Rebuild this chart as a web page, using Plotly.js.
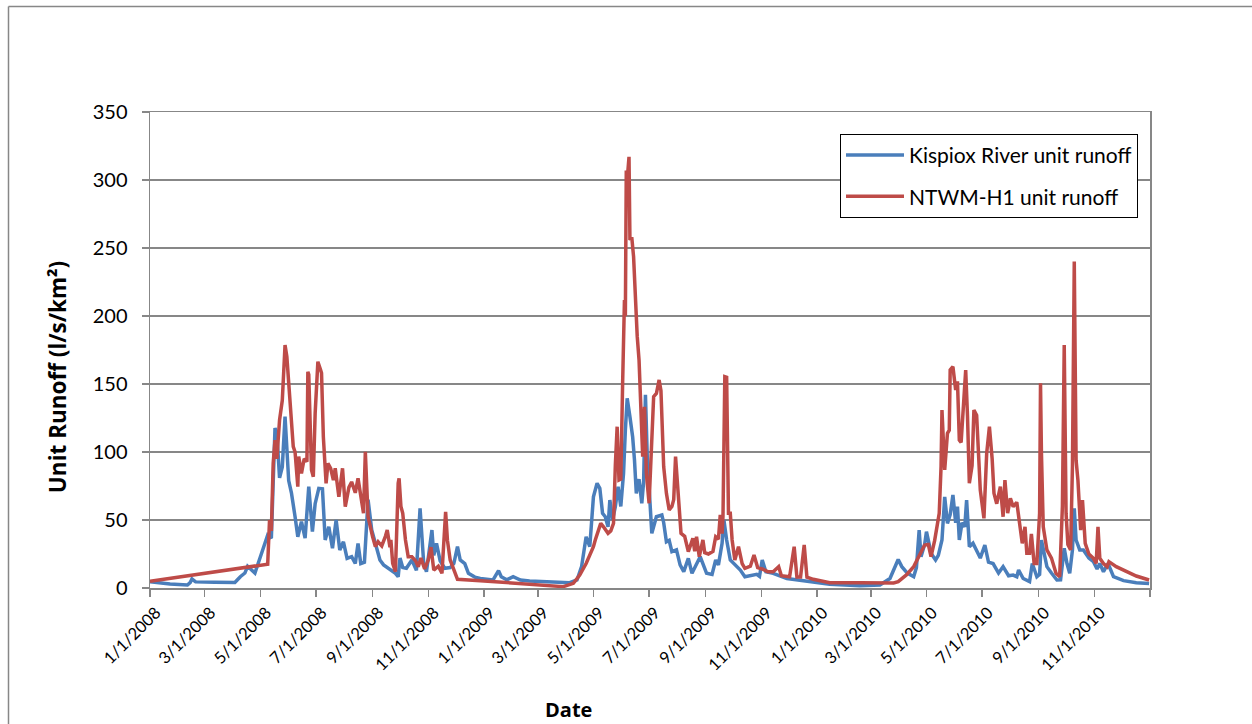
<!DOCTYPE html>
<html>
<head>
<meta charset="utf-8">
<script src="https://cdn.plot.ly/plotly-3.0.1.min.js"></script>
<style>
  html, body { margin: 0; padding: 0; background: #ffffff; }
  #chart { width: 1252px; height: 724px; }
</style>
</head>
<body>
<div id="chart"></div>
<script>
// Daily unit runoff, 2008-2010. Days are counted from 1 Jan 2008.
const kispioxDay = [0, 8, 22, 41, 44, 46, 50, 71, 93, 99, 104, 107, 112, 115, 121, 126, 129, 133, 135, 137, 139, 142, 145, 148, 152, 155, 159, 162, 166, 170, 174, 178, 181, 185, 189, 192, 196, 200, 204, 208, 212, 216, 221, 225, 228, 231, 235, 239, 243, 247, 252, 256, 261, 269, 272, 274, 277, 281, 287, 292, 296, 300, 303, 309, 311, 314, 318, 323, 329, 333, 337, 340, 345, 349, 356, 362, 376, 382, 385, 391, 398, 406, 416, 435, 460, 468, 473, 478, 482, 486, 490, 493, 496, 499, 502, 504, 507, 510, 513, 516, 519, 521, 523, 526, 529, 531, 533, 536, 539, 541, 543, 545, 548, 550, 555, 561, 563, 566, 569, 572, 577, 581, 585, 590, 594, 599, 603, 607, 610, 616, 620, 623, 627, 629, 632, 636, 641, 647, 652, 658, 665, 668, 671, 675, 683, 698, 720, 745, 778, 800, 811, 815, 820, 824, 830, 837, 840, 843, 845, 849, 851, 854, 856, 861, 864, 868, 871, 874, 877, 880, 883, 885, 887, 890, 893, 895, 898, 902, 906, 910, 915, 919, 924, 930, 935, 941, 946, 950, 952, 957, 964, 967, 972, 975, 977, 979, 983, 988, 994, 998, 1002, 1005, 1008, 1011, 1013, 1015, 1019, 1023, 1029, 1034, 1038, 1041, 1045, 1050, 1056, 1067, 1081, 1095];
const kispioxRunoff = [4.6, 4, 3, 2.2, 4, 6.6, 4.5, 4.2, 4, 8.3, 11, 16, 13, 11, 23, 33, 39, 36.7, 79, 117.6, 114, 81, 89, 126, 79, 70, 52.4, 37.7, 48.8, 36.7, 74.5, 41.4, 62, 73.3, 73, 35.3, 45, 29.2, 50, 28, 34, 21.8, 23, 18, 32.8, 18, 19, 65, 42.6, 33, 20.6, 17, 14.5, 10.8, 8.3, 22, 15, 14.5, 20.6, 13, 58.6, 18, 12, 42.6, 24, 32.8, 20, 14.5, 15, 18, 30.4, 20.6, 18, 10.8, 8, 7, 5.9, 12.7, 8.3, 6, 8.3, 5.9, 5.1, 4.7, 3.9, 5.9, 15.7, 37.7, 30.4, 67, 77, 73.3, 55, 52.4, 45, 64.7, 50, 59.8, 74.5, 60, 84.3, 116, 139.5, 126, 111, 94, 69.6, 80, 62.3, 78, 142, 96.6, 59.8, 40.2, 52.4, 53.7, 48, 34, 35, 26.7, 28, 17, 12, 21.8, 10.8, 18, 23, 16, 10.8, 10, 20.6, 17, 32.8, 50, 35.3, 20.6, 17, 13.2, 8.3, 9, 10, 8.5, 20.6, 12, 10.8, 7, 4.7, 2.7, 1.7, 2.2, 7, 13.2, 21, 15.7, 11, 8.3, 15, 42.6, 23, 32, 41.4, 32, 25.5, 20.6, 24, 35.3, 67, 47.5, 54, 68.4, 48, 59.8, 35.3, 48, 45, 64.7, 30.4, 33, 28, 22, 31.6, 19, 18, 11, 15.7, 9, 9.5, 8.3, 13.2, 7, 4.7, 18, 8.3, 10, 35.3, 28, 15.7, 11, 5.9, 6, 29.2, 18, 10.8, 28, 58.6, 35.3, 28, 28, 22, 19.4, 14, 18, 12, 18, 8.3, 5.4, 3.9, 3.4];

const ntwmDay = [0, 129, 131, 133, 135, 137, 139, 142, 145, 148, 150, 152, 155, 157, 159, 162, 163, 166, 169, 172, 173, 174, 177, 179, 181, 184, 187, 188, 190, 193, 195, 198, 201, 203, 207, 211, 214, 218, 221, 225, 228, 231, 234, 236, 239, 244, 247, 250, 254, 258, 260, 263, 264, 266, 269, 272, 273, 275, 277, 280, 283, 287, 291, 294, 297, 301, 305, 308, 311, 316, 320, 324, 326, 329, 337, 362, 398, 427, 453, 464, 471, 478, 486, 488, 494, 497, 502, 505, 508, 510, 512, 514, 516, 518, 520, 521, 522, 523, 525, 526, 528, 530, 533, 534, 536, 538, 540, 542, 544, 547, 550, 552, 555, 558, 560, 563, 566, 569, 572, 574, 576, 579, 582, 586, 590, 595, 597, 599, 602, 606, 608, 612, 617, 620, 623, 625, 627, 628, 630, 632, 634, 636, 638, 641, 645, 649, 652, 658, 662, 666, 671, 677, 683, 689, 692, 701, 706, 709, 713, 717, 720, 727, 745, 778, 815, 820, 829, 837, 844, 849, 853, 856, 860, 863, 865, 867, 868, 871, 874, 876, 877, 880, 883, 885, 887, 889, 892, 894, 896, 898, 901, 903, 906, 908, 910, 914, 917, 920, 923, 925, 928, 932, 935, 937, 940, 943, 946, 950, 953, 956, 959, 961, 964, 966, 969, 972, 975, 976, 977, 979, 983, 988, 993, 997, 1000, 1002, 1004, 1006, 1009, 1011, 1013, 1015, 1017, 1020, 1022, 1025, 1029, 1034, 1037, 1039, 1041, 1045, 1049, 1051, 1059, 1070, 1081, 1095];
const ntwmRunoff = [5, 17.5, 50, 42, 91.7, 108.8, 95, 123.5, 138, 178.7, 170, 150, 121, 104, 100, 74.5, 96.6, 84.3, 95, 92.9, 159, 157, 86.8, 81.8, 128.4, 166.4, 160.3, 158, 111, 77, 91.7, 88, 79.4, 88, 67, 88, 59.8, 74, 78, 70, 80.6, 67, 55, 100.2, 52.4, 37.7, 30.4, 34, 31, 38, 42.6, 30, 35.3, 18, 12, 77, 80.6, 60, 55, 35.3, 23, 23, 20, 15.7, 22, 14, 20.6, 30, 13.2, 16, 10.8, 56, 35, 20.6, 6.4, 5.4, 3.9, 2.2, 1, 3.4, 9.6, 18, 30.4, 35.3, 47.5, 45, 40.2, 42, 47.5, 90, 118.6, 79.4, 80, 150.5, 211.8, 200, 307, 300, 317, 255.9, 258, 243.6, 187.3, 185, 167.6, 121, 96.6, 133.3, 84.3, 62.3, 113.7, 140.7, 143, 153, 145, 89.2, 69.6, 57.4, 60, 65, 96.6, 70, 40.2, 38, 26.7, 36.5, 27, 37.7, 23, 35.3, 26, 25, 27, 37.7, 36, 53.7, 40, 53, 155.4, 155, 55, 55, 35.3, 20.6, 30.4, 18, 14.5, 16, 24.3, 15, 14, 12, 12, 15.7, 9, 8.3, 30.4, 8, 8, 31.6, 8, 6.4, 3.9, 3.9, 3.7, 4.7, 9.6, 15.7, 24.3, 31.6, 32, 23, 35, 46.3, 55, 89.2, 130.9, 86.8, 113.7, 116, 160.3, 162.7, 145.6, 152, 108.8, 107, 138, 160.3, 126, 77, 90, 130.9, 127, 96.6, 72, 51.2, 99, 118.6, 95, 69.6, 62, 74.5, 52.4, 79.4, 55, 66, 59.8, 63, 48.8, 32.8, 45, 25.5, 25.5, 39.7, 18, 18, 55, 150.5, 100, 45, 28, 22, 10.8, 8.3, 60, 178.7, 55, 32, 28, 90, 240, 94, 79.4, 42.6, 64.7, 32.8, 25, 21.8, 18, 45, 21.8, 18, 15.7, 19.4, 15.7, 12, 8.8, 5.9];

const seriesNames = ['Kispiox River unit runoff', 'NTWM-H1 unit runoff'];
const seriesColors = ['#4a7ebb', '#be4b48'];

const tickDates = ['2008-01-01', '2008-03-01', '2008-05-01', '2008-07-01', '2008-09-01', '2008-11-01',
  '2009-01-01', '2009-03-01', '2009-05-01', '2009-07-01', '2009-09-01', '2009-11-01',
  '2010-01-01', '2010-03-01', '2010-05-01', '2010-07-01', '2010-09-01', '2010-11-01', '2011-01-01'];
const tickLabels = ['1/1/2008', '3/1/2008', '5/1/2008', '7/1/2008', '9/1/2008', '11/1/2008',
  '1/1/2009', '3/1/2009', '5/1/2009', '7/1/2009', '9/1/2009', '11/1/2009',
  '1/1/2010', '3/1/2010', '5/1/2010', '7/1/2010', '9/1/2010', '11/1/2010', ''];

const yTicks = [0, 50, 100, 150, 200, 250, 300, 350];

function dayToDate(d) {
  const t = new Date(Date.UTC(2008, 0, 1) + d * 86400000);
  return t.toISOString().slice(0, 10);
}

const FONT = 'Lato, "Open Sans", sans-serif';
const TITLE_FONT = '"Open Sans", Lato, sans-serif';
const GRID = '#878787';

const traces = [
  {
    x: kispioxDay.map(dayToDate), y: kispioxRunoff, type: 'scatter', mode: 'lines',
    name: seriesNames[0], legendgroup: 'a',
    line: { color: seriesColors[0], width: 3.5 }
  },
  {
    x: ntwmDay.map(dayToDate), y: ntwmRunoff, type: 'scatter', mode: 'lines',
    name: seriesNames[1], legendgroup: 'b',
    line: { color: seriesColors[1], width: 3.5 }
  }
];

const layout = {
  width: 1252, height: 724,
  margin: { l: 150, r: 102, t: 112, b: 136 },
  paper_bgcolor: '#ffffff', plot_bgcolor: '#ffffff',
  font: { family: FONT, color: '#000000' },
  showlegend: true,
  legend: {
    x: 0.69, y: 0.954, xanchor: 'left', yanchor: 'top',
    bgcolor: '#ffffff', bordercolor: '#000000', borderwidth: 1,
    font: { family: FONT, size: 21, color: '#000000' },
    traceorder: 'grouped', tracegroupgap: 11, itemwidth: 58
  },
  xaxis: {
    type: 'date',
    range: ['2008-01-01', '2011-01-01'],
    tickmode: 'array', tickvals: tickDates, ticktext: tickLabels,
    tickangle: -45,
    tickfont: { family: FONT, size: 16.5, color: '#000000' },
    ticks: 'outside', ticklen: 7, tickcolor: GRID, tickwidth: 1.5,
    ticklabelshift: 6,
    showgrid: false, zeroline: false,
    showline: true, linecolor: GRID, linewidth: 1.5, mirror: true
  },
  yaxis: {
    range: [0, 350],
    tickmode: 'array', tickvals: yTicks,
    tickfont: { family: FONT, size: 20, color: '#000000' },
    ticks: 'outside', ticklen: 7, tickcolor: GRID, tickwidth: 1.5,
    ticklabelstandoff: 10,
    showgrid: true, gridcolor: GRID, gridwidth: 1.5,
    zeroline: false,
    showline: true, linecolor: GRID, linewidth: 1.5, mirror: true
  },
  annotations: [
    {
      text: 'Date', xref: 'paper', yref: 'paper', x: 0.418, y: -0.256,
      xanchor: 'center', yanchor: 'middle', showarrow: false,
      font: { family: TITLE_FONT, size: 20, color: '#000000', weight: 'bold' }
    },
    {
      text: 'Unit Runoff (l/s/km²)', xref: 'paper', yref: 'paper', x: -0.093, y: 0.443,
      xanchor: 'center', yanchor: 'middle', showarrow: false, textangle: -90,
      font: { family: TITLE_FONT, size: 22.5, color: '#000000', weight: 'bold' }
    }
  ],
  shapes: [
    // chart-area frame (top and left edges)
    { type: 'line', xref: 'paper', yref: 'paper', x0: -0.1415, x1: 1.12, y0: 1.2216, y1: 1.2216,
      line: { color: GRID, width: 1.5 } },
    { type: 'line', xref: 'paper', yref: 'paper', x0: -0.1415, x1: -0.1415, y0: 1.2216, y1: -0.3,
      line: { color: GRID, width: 1.5 } }
  ]
};

Plotly.newPlot('chart', traces, layout, { displayModeBar: false, staticPlot: true });
</script>
</body>
</html>
